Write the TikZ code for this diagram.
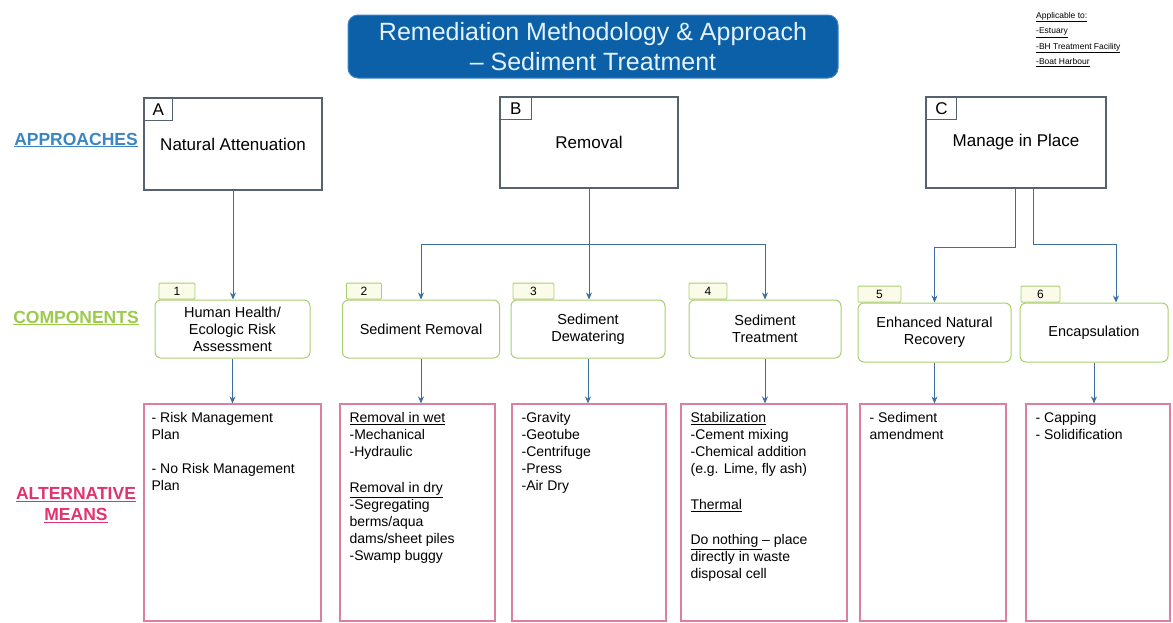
\documentclass[tikz,border=0pt]{standalone}
\usepackage{fontspec}
\setmainfont{Liberation Sans}
\usepackage{tikz}
\usetikzlibrary{arrows.meta, positioning}
\definecolor{titleblue}{HTML}{0B60A8}
\definecolor{titleedge}{HTML}{3A86C8}
\definecolor{titletext}{HTML}{E4F2FF}
\definecolor{boxgray}{HTML}{56626E}
\definecolor{compgreen}{HTML}{A9D06F}
\definecolor{tagfill}{HTML}{FBFBEA}
\definecolor{meanspink}{HTML}{DC7E9F}
\definecolor{linkblue}{HTML}{3D6F9E}
\definecolor{apblue}{HTML}{3B85C3}
\definecolor{cmgreen}{HTML}{9CCB4C}
\definecolor{altpink}{HTML}{E2336F}
\newcommand\ttlfont{\fontsize{25}{30}\selectfont}
\newcommand\appfont{\fontsize{17}{20}\selectfont}
\newcommand\compfont{\fontsize{14.5}{17}\selectfont}
\newcommand\meanfont{\fontsize{14}{17}\selectfont}
\newcommand\notefont{\fontsize{8.5}{15.5}\selectfont}
\newcommand\lblfont{\fontsize{17.5}{21}\selectfont\bfseries}

\begin{document}
\begin{tikzpicture}[x=1pt, y=-1pt, >=Stealth,
    approach/.style={draw=boxgray, line width=1.2pt, font=\appfont, inner sep=0pt},
    apptag/.style={draw=boxgray, line width=1pt, font=\appfont, anchor=north west, inner sep=0pt},
    compbox/.style={draw=compgreen, line width=1pt, rounded corners=6pt, align=center, font=\compfont, inner sep=0pt},
    comptag/.style={draw=compgreen, fill=tagfill, line width=0.8pt, rounded corners=1pt, anchor=south west, minimum height=16, inner sep=0pt, font=\fontsize{12}{12}\selectfont},
    meansbox/.style={draw=meanspink, line width=1.2pt, minimum height=217, inner sep=0pt},
    meanstext/.style={anchor=north west, align=left, inner sep=0pt, font=\meanfont},
    rowlabel/.style={font=\lblfont, align=center, inner sep=0pt},
    link/.style={draw=linkblue, line width=1pt, -{Stealth[length=7pt, width=6pt]}}]
  \useasboundingbox (0,0) rectangle (1173,622);

  % Title
  \node[draw=titleedge, line width=1pt, fill=titleblue, rounded corners=10pt, minimum width=490, minimum height=63,
        text=titletext, font=\ttlfont, align=center, inner sep=0pt] (title) at (593,46.5)
        {Remediation Methodology \& Approach\\– Sediment Treatment};

  % Applicable to
  \node[anchor=north west, align=left, font=\notefont, inner sep=0pt] (apply) at (1036,12)
        {\underline{Applicable to:}\\\underline{-Estuary}\\\underline{-BH Treatment Facility}\\\underline{-Boat Harbour}};

  % Row labels
  \node[rowlabel, text=apblue] (lapp) at (76,140) {\underline{APPROACHES}};
  \node[rowlabel, text=cmgreen] (lcomp) at (76,318) {\underline{COMPONENTS}};
  \node[rowlabel, text=altpink] (lalt) at (76,505) {\underline{ALTERNATIVE}\\\underline{MEANS}};

  % Approaches
  \node[approach, minimum width=178, minimum height=92] (a) at (233,144) {Natural Attenuation};
  \node[approach, minimum width=178, minimum height=91] (b) at (589,142.5) {Removal};
  \node[approach, minimum width=180, minimum height=91] (c) at (1016,142.5) {Manage in Place};
  \node[apptag, minimum width=29, minimum height=23] (atag) at (a.north west) {A};
  \node[apptag, minimum width=32, minimum height=23] (btag) at (b.north west) {B};
  \node[apptag, minimum width=31, minimum height=23] (ctag) at (c.north west) {C};

  % Components
  \node[compbox, minimum width=155, minimum height=58] (c1) at (232.5,329) {Human Health/\\Ecologic Risk\\Assessment};
  \node[compbox, minimum width=157, minimum height=58] (c2) at (421,329) {Sediment Removal};
  \node[compbox, minimum width=154, minimum height=58] (c3) at (588,329) {Sediment\\Dewatering};
  \node[compbox, minimum width=152, minimum height=58] (c4) at (765,329) {Sediment\\Treatment};
  \node[compbox, minimum width=153, minimum height=59] (c5) at (934.5,332.5) {Enhanced Natural\\Recovery};
  \node[compbox, minimum width=148, minimum height=59] (c6) at (1094,332.5) {Encapsulation};
  \node[comptag, minimum width=36] (n1) at ([xshift=4pt]c1.north west) {1};
  \node[comptag, minimum width=35] (n2) at ([xshift=4pt]c2.north west) {2};
  \node[comptag, minimum width=41] (n3) at ([xshift=2pt]c3.north west) {3};
  \node[comptag, minimum width=38] (n4) at (c4.north west) {4};
  \node[comptag, minimum width=43] (n5) at (c5.north west) {5};
  \node[comptag, minimum width=39] (n6) at ([xshift=1pt]c6.north west) {6};

  % Alternative means
  \node[meansbox, minimum width=177] (m1) at (232.5,512.5) {};
  \node[meansbox, minimum width=155] (m2) at (417.5,512.5) {};
  \node[meansbox, minimum width=154] (m3) at (589,512.5) {};
  \node[meansbox, minimum width=166] (m4) at (764,512.5) {};
  \node[meansbox, minimum width=146] (m5) at (933,512.5) {};
  \node[meansbox, minimum width=144] (m6) at (1098,512.5) {};
  \node[meanstext] (t1) at ([xshift=8pt, yshift=-9pt]m1.north west)
        {- Risk Management\\Plan\\[17pt]- No Risk Management\\Plan};
  \node[meanstext] (t2) at ([xshift=10pt, yshift=-9pt]m2.north west)
        {\underline{Removal in wet}\\-Mechanical\\-Hydraulic\\[19pt]\underline{Removal in dry}\\-Segregating\\berms/aqua\\dams/sheet piles\\-Swamp buggy};
  \node[meanstext] (t3) at ([xshift=10pt, yshift=-9pt]m3.north west)
        {-Gravity\\-Geotube\\-Centrifuge\\-Press\\-Air Dry};
  \node[meanstext] (t4) at ([xshift=10pt, yshift=-9pt]m4.north west)
        {\underline{Stabilization}\\-Cement mixing\\-Chemical addition\\(e.g. Lime, fly ash)\\[19pt]\underline{Thermal}\\[18pt]\underline{Do nothing }– place\\directly in waste\\disposal cell};
  \node[meanstext] (t5) at ([xshift=10pt, yshift=-9pt]m5.north west) {- Sediment\\amendment};
  \node[meanstext] (t6) at ([xshift=10pt, yshift=-9pt]m6.north west) {- Capping\\- Solidification};

  % Connectors approaches -> components
  \coordinate (bsplit) at (589,244);
  \draw[link] (a.south) -- (a.south |- c1.north);
  \draw[draw=linkblue, line width=1pt] (b.south) -- (bsplit);
  \draw[link] (bsplit) -| (c2.north);
  \draw[link] (bsplit) -- (bsplit |- c3.north);
  \draw[link] (bsplit) -| (c4.north);
  \draw[link] ([xshift=-1pt]c.south) -- ++(0,59) -| (c5.north);
  \draw[link] ([xshift=17pt]c.south) -- ++(0,56) -| ([xshift=22pt]c6.north);

  % Connectors components -> means
  \foreach \i in {1,...,6}
    \draw[link] (c\i.south) -- (c\i.south |- m\i.north);
\end{tikzpicture}
\end{document}
